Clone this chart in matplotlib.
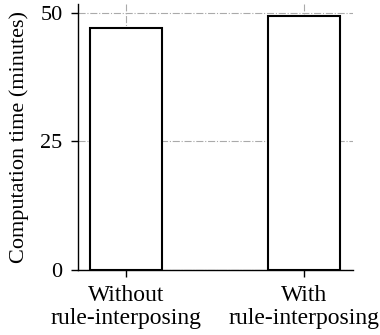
import matplotlib
matplotlib.use('Agg')
import matplotlib.pyplot as plt

# Computation time for the two configurations
labels = ['Without\nrule-interposing', 'With\nrule-interposing']
minutes = [47.1, 49.3]
yticks = [0, 25, 50]

plt.rcParams['font.family'] = ['Liberation Serif', 'DejaVu Serif']

fig = plt.figure(figsize=(3.8, 3.35), dpi=100)
ax = fig.add_axes([0.205, 0.194, 0.724, 0.794])

ax.set_axisbelow(True)
ax.grid(True, color='#aaaaaa', linestyle='-.', linewidth=0.8)
ax.bar(range(len(labels)), minutes, width=0.4, color='white',
       edgecolor='black', linewidth=1.5)

ax.set_xlim(-0.27, 1.275)
ax.set_ylim(0, 51.7)
ax.set_xticks(range(len(labels)))
ax.set_xticklabels(labels, fontsize=17, linespacing=1.1)
ax.set_yticks(yticks)
ax.tick_params(axis='y', labelsize=16, length=5, width=1, pad=6)
ax.tick_params(axis='x', length=5, width=1, pad=6)
ax.set_ylabel('Computation time (minutes)', fontsize=16, labelpad=8)

for side in ['top', 'right']:
    ax.spines[side].set_visible(False)
for side in ['left', 'bottom']:
    ax.spines[side].set_linewidth(1)

plt.savefig('out.png', dpi=100)
